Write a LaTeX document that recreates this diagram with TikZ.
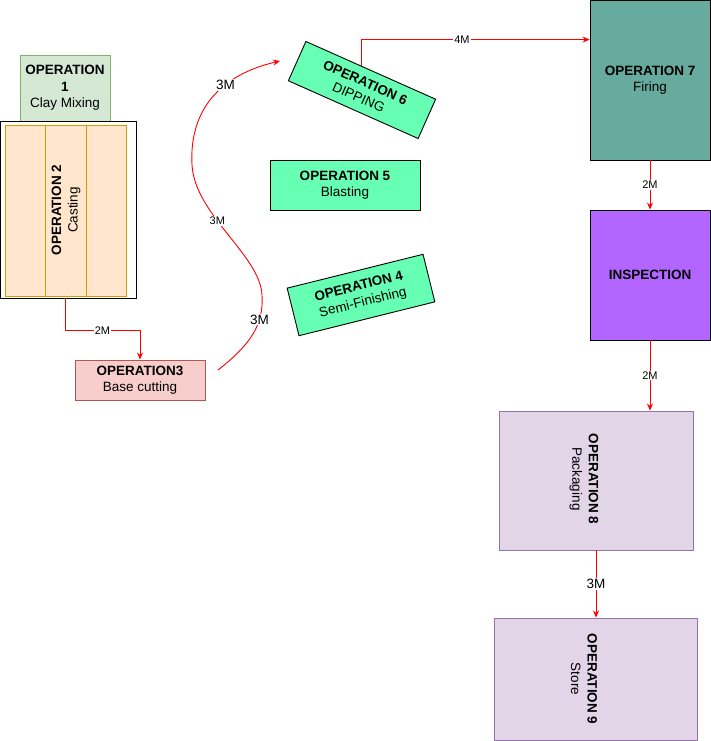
\documentclass[tikz,border=0pt]{standalone}
\usepackage{fontspec}
\setmainfont{Liberation Sans}
\usetikzlibrary{arrows.meta,calc}
\definecolor{mixfill}{HTML}{D5E8D4}
\definecolor{mixline}{HTML}{82B366}
\definecolor{castfill}{HTML}{FFE6CC}
\definecolor{castline}{HTML}{D79B00}
\definecolor{cutfill}{HTML}{F8CECC}
\definecolor{cutline}{HTML}{B85450}
\definecolor{mint}{HTML}{66FFB3}
\definecolor{firefill}{HTML}{67AB9F}
\definecolor{inspfill}{HTML}{B266FF}
\definecolor{packfill}{HTML}{E1D5E7}
\definecolor{packline}{HTML}{9673A6}

\begin{document}
\begin{tikzpicture}[x=1pt,y=-1pt,line width=0.9pt,font=\fontsize{13.5}{16.5}\selectfont,
	op/.style={draw,align=center,inner sep=0pt},
	flow/.style={draw=red,-{Stealth[length=7pt,width=6pt]}},
	dist/.style={fill=white,inner sep=1pt,font=\fontsize{11}{12}\selectfont},
	bigdist/.style={fill=white,inner sep=1pt,font=\fontsize{13.5}{14}\selectfont}]
	\useasboundingbox (0,0) rectangle (711,741);
	\node[op,fill=mixfill,draw=mixline,minimum width=90pt,minimum height=66pt] (op1) at (65,88) {\textbf{OPERATION}\\\textbf{1}\\Clay Mixing};
	\node[op,fill=white,minimum width=136pt,minimum height=177pt] (op2) at (68,209.5) {};
	\draw[fill=castfill,draw=castline] (5,125) rectangle (126,296);
	\draw[castline] (45,125) -- (45,296) (86,125) -- (86,296);
	\node[align=center,rotate=90] (op2txt) at (66,210) {\textbf{OPERATION 2}\\Casting};
	\node[op,fill=cutfill,draw=cutline,minimum width=130pt,minimum height=40pt] (op3) at (140,380) {\textbf{OPERATION3}\\Base cutting};
	\node[op,fill=mint,rotate=14,minimum width=140pt,minimum height=49pt] (op4) at (361,295) {\textbf{OPERATION 4}\\Semi-Finishing};
	\node[op,fill=mint,minimum width=150pt,minimum height=50pt] (op5) at (345,185) {\textbf{OPERATION 5}\\Blasting};
	\node[op,fill=mint,rotate=-24,minimum width=142pt,minimum height=43pt] (op6) at (362,90) {\textbf{OPERATION 6}\\DIPPING};
	\node[op,fill=firefill,minimum width=120pt,minimum height=160pt] (op7) at (650,80) {\textbf{OPERATION 7}\\Firing};
	\node[op,fill=inspfill,minimum width=120pt,minimum height=130pt] (insp) at (650,275) {\textbf{INSPECTION}};
	\node[op,fill=packfill,draw=packline,minimum width=194pt,minimum height=139pt] (op8) at (596,480.5) {};
	\node[align=center,rotate=-90] (op8txt) at (584,479) {\textbf{OPERATION 8}\\Packaging};
	\node[op,fill=packfill,draw=packline,minimum width=203pt,minimum height=122pt] (op9) at (595.5,679) {};
	\node[align=center,rotate=-90] (op9txt) at (584,679) {\textbf{OPERATION 9}\\Store};
	\coordinate (p2) at ([xshift=-3pt]op2.south);
	\coordinate (p3) at (218,370);
	\coordinate (p6) at ($(op6.north west)!0.43!(op6.north east)$);
	\coordinate (p6in) at (280,61);
	\draw[flow] (p2) -- ++(0,32) -| node[dist,pos=0.25] {2M} (op3.north);
	\draw[flow] (p3) .. controls (250,345) and (264,325) .. node[bigdist,pos=0.7] {3M} (262,295)
		.. controls (260,255) and (195,215) .. node[dist,pos=0.6] {3M} (192,165)
		.. controls (189,110) and (220,75) .. node[bigdist,pos=0.63] {3M} (p6in);
	\draw[flow] (p6) |- node[dist,pos=0.72] {4M} ([yshift=-40pt]op7.north west);
	\draw[flow] (op7.south) -- node[dist] {2M} (insp.north);
	\draw[flow] (insp.south) -- node[dist] {2M} (insp.south |- op8.north);
	\draw[flow] (op8.south) -- node[bigdist] {3M} (op8.south |- op9.north);
\end{tikzpicture}
\end{document}
